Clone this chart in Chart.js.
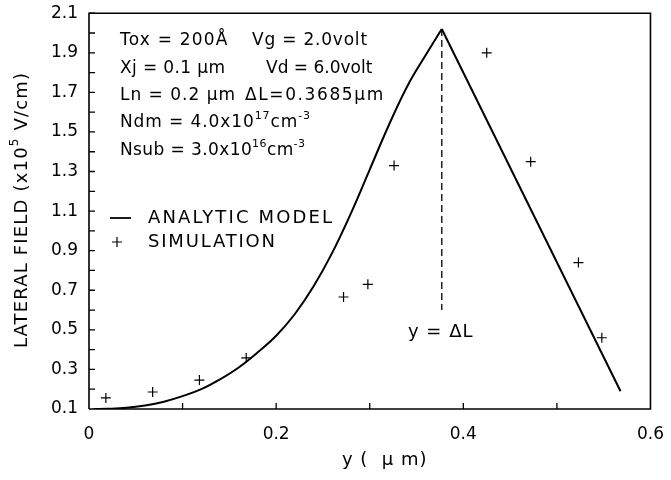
<!DOCTYPE html>
<html>
<head>
<meta charset="utf-8">
<script src="https://cdn.jsdelivr.net/npm/chart.js@4.4.1/dist/chart.umd.min.js"></script>
<style>
  html, body { margin: 0; padding: 0; background: #fff; }
  #wrap { width: 671px; height: 480px; }
</style>
</head>
<body>
<div id="wrap"><canvas id="fieldChart" width="671" height="480"></canvas></div>
<script>
// analytic model, rising part
const modelX = [0.005, 0.02, 0.04, 0.06, 0.08, 0.10, 0.12, 0.14, 0.16, 0.18, 0.20, 0.22, 0.24, 0.26, 0.28, 0.30, 0.32, 0.34, 0.36, 0.377];
const modelY = [0.10, 0.101, 0.106, 0.118, 0.137, 0.165, 0.20, 0.25, 0.31, 0.385, 0.47, 0.58, 0.72, 0.89, 1.09, 1.31, 1.53, 1.73, 1.89, 2.02];
// analytic model, falling part
const fallX = [0.377, 0.568];
const fallY = [2.02, 0.19];
// simulation points
const simX = [0.018, 0.068, 0.118, 0.168, 0.272, 0.298, 0.326, 0.425, 0.472, 0.523, 0.548];
const simY = [0.156, 0.186, 0.246, 0.358, 0.666, 0.73, 1.33, 1.90, 1.35, 0.84, 0.46];
// y = deltaL marker
const dlX = [0.377, 0.377];
const dlY = [2.02, 0.60];

const FONT = '"DejaVu Sans", sans-serif';

function pts(xs, ys) {
    return xs.map((x, i) => ({ x: x, y: ys[i] }));
}

function setFont(c, size, sup) {
    c.font = (sup ? Math.round(size * 0.65) : size) + 'px ' + FONT;
}

// width of a string made of normal and superscript pieces
function richWidth(c, parts, size) {
    let w = 0;
    parts.forEach(p => {
        setFont(c, size, p[1] === 'sup');
        w += c.measureText(p[0]).width;
    });
    return w;
}

// draws the pieces from x, spreading the letters towards the given width
function drawFit(c, parts, x, y, size, width, maxLs) {
    c.letterSpacing = '0px';
    const nat = richWidth(c, parts, size);
    const n = parts.reduce((s, p) => s + p[0].length, 0);
    let ls = width ? (width - nat) / Math.max(1, n - 1) : 0;
    ls = Math.max(0, Math.min(maxLs === undefined ? 3 : maxLs, ls));
    c.letterSpacing = ls.toFixed(2) + 'px';
    c.textAlign = 'left';
    let cx = x;
    parts.forEach(p => {
        const sup = p[1] === 'sup';
        setFont(c, size, sup);
        c.fillText(p[0], cx, sup ? y - size * 0.42 : y);
        cx += c.measureText(p[0]).width;
    });
    c.letterSpacing = '0px';
}

const decor = {
    id: 'decor',
    afterDraw(chart) {
        const c = chart.ctx;
        const a = chart.chartArea;
        const xs = chart.scales.x;
        const ys = chart.scales.y;
        c.save();
        c.strokeStyle = '#000';
        c.fillStyle = '#000';

        // frame
        c.lineWidth = 1.6;
        c.beginPath();
        c.moveTo(a.left, a.bottom);
        c.lineTo(a.left, a.top);
        c.lineTo(a.right, a.top);
        c.lineTo(a.right, a.bottom);
        c.lineTo(a.left, a.bottom);
        c.stroke();

        // inward ticks
        c.lineWidth = 1.3;
        c.beginPath();
        for (let i = 1; i <= 20; i++) {
            const py = ys.getPixelForValue(0.1 + i * 0.1);
            c.moveTo(a.left, py);
            c.lineTo(a.left + 6, py);
        }
        for (let i = 1; i <= 5; i++) {
            const px = xs.getPixelForValue(i * 0.1);
            c.moveTo(px, a.bottom);
            c.lineTo(px, a.bottom - 6);
        }
        c.stroke();

        c.textBaseline = 'middle';
        const fs = 17;

        // parameter block
        drawFit(c, [['Tox = 200Å', 'n']], 120, 41, fs, 113, 1.2);
        drawFit(c, [['Vg = 2.0volt', 'n']], 252, 41, fs, 115, 1.2);
        drawFit(c, [['Xj = 0.1 μm', 'n']], 120, 69, fs, 105, 1.2);
        drawFit(c, [['Vd = 6.0volt', 'n']], 266, 69, fs, 97, 1.2);
        drawFit(c, [['Ln = 0.2 μm', 'n']], 120, 96, fs, 115, 1.2);
        drawFit(c, [['ΔL=0.3685μm', 'n']], 245, 96, fs, 150, 1.6);
        drawFit(c, [['Ndm = 4.0x10', 'n'], ['17', 'sup'], ['cm', 'n'], ['-3', 'sup']], 120, 123, fs, 190, 1.2);
        drawFit(c, [['Nsub = 3.0x10', 'n'], ['16', 'sup'], ['cm', 'n'], ['-3', 'sup']], 120, 151, fs, 185, 1.2);

        // legend
        c.lineWidth = 1.8;
        c.beginPath();
        c.moveTo(110, 218);
        c.lineTo(131, 218);
        c.stroke();
        c.lineWidth = 1.2;
        c.beginPath();
        c.moveTo(112, 242);
        c.lineTo(122, 242);
        c.moveTo(117, 237);
        c.lineTo(117, 247);
        c.stroke();
        drawFit(c, [['ANALYTIC MODEL', 'n']], 148, 218, 18, 184);
        drawFit(c, [['SIMULATION', 'n']], 148, 242, 18, 127);

        // y = deltaL label
        drawFit(c, [['y = ΔL', 'n']], 408, 332, 18, 67, 1);

        // x axis title
        drawFit(c, [['y (  μ m)', 'n']], 342, 460, 18, 88, 1);

        // y axis title
        c.translate(22, (a.top + a.bottom) / 2);
        c.rotate(-Math.PI / 2);
        drawFit(c, [['LATERAL FIELD (x10', 'n'], ['5', 'sup'], [' V/cm)', 'n']], -137, 0, 18, 275);
        c.restore();
    }
};

const ctx = document.getElementById('fieldChart').getContext('2d');
const fieldChart = new Chart(ctx, {
    type: 'scatter',
    data: {
        datasets: [
            {
                label: 'ANALYTIC MODEL',
                data: pts(modelX, modelY),
                showLine: true,
                borderColor: '#000',
                borderWidth: 2,
                pointRadius: 0,
                tension: 0.4
            },
            {
                label: 'ANALYTIC MODEL (falling)',
                data: pts(fallX, fallY),
                showLine: true,
                borderColor: '#000',
                borderWidth: 2,
                pointRadius: 0
            },
            {
                label: 'y = ΔL',
                data: pts(dlX, dlY),
                showLine: true,
                borderColor: '#000',
                borderWidth: 1.3,
                borderDash: [7, 4],
                pointRadius: 0
            },
            {
                label: 'SIMULATION',
                data: pts(simX, simY),
                showLine: false,
                pointStyle: 'cross',
                pointRadius: 5,
                borderColor: '#000',
                borderWidth: 1.2
            }
        ]
    },
    options: {
        responsive: false,
        animation: false,
        layout: {
            padding: { top: 13, right: 18, left: 0, bottom: 0 }
        },
        scales: {
            x: {
                type: 'linear',
                min: 0,
                max: 0.6,
                grid: { display: false },
                border: { display: false },
                afterFit: (s) => { s.height = 71; },
                ticks: {
                    stepSize: 0.1,
                    padding: 7,
                    color: '#000',
                    maxRotation: 0,
                    font: { family: FONT, size: 17 },
                    callback: (v) => {
                        const k = Math.round(v * 10);
                        if (k % 2 !== 0) return '';
                        return k === 0 ? '0' : (k / 10).toFixed(1);
                    }
                }
            },
            y: {
                type: 'linear',
                min: 0.1,
                max: 2.1,
                grid: { display: false },
                border: { display: false },
                afterFit: (s) => { s.width = 89; },
                ticks: {
                    stepSize: 0.1,
                    padding: 3,
                    color: '#000',
                    autoSkip: false,
                    font: { family: FONT, size: 17 },
                    callback: (v) => {
                        const k = Math.round(v * 10);
                        return k % 2 === 1 ? (k / 10).toFixed(1) : '';
                    }
                }
            }
        },
        plugins: {
            legend: { display: false },
            tooltip: { enabled: false },
            title: { display: false }
        }
    },
    plugins: [decor]
});
</script>
</body>
</html>
